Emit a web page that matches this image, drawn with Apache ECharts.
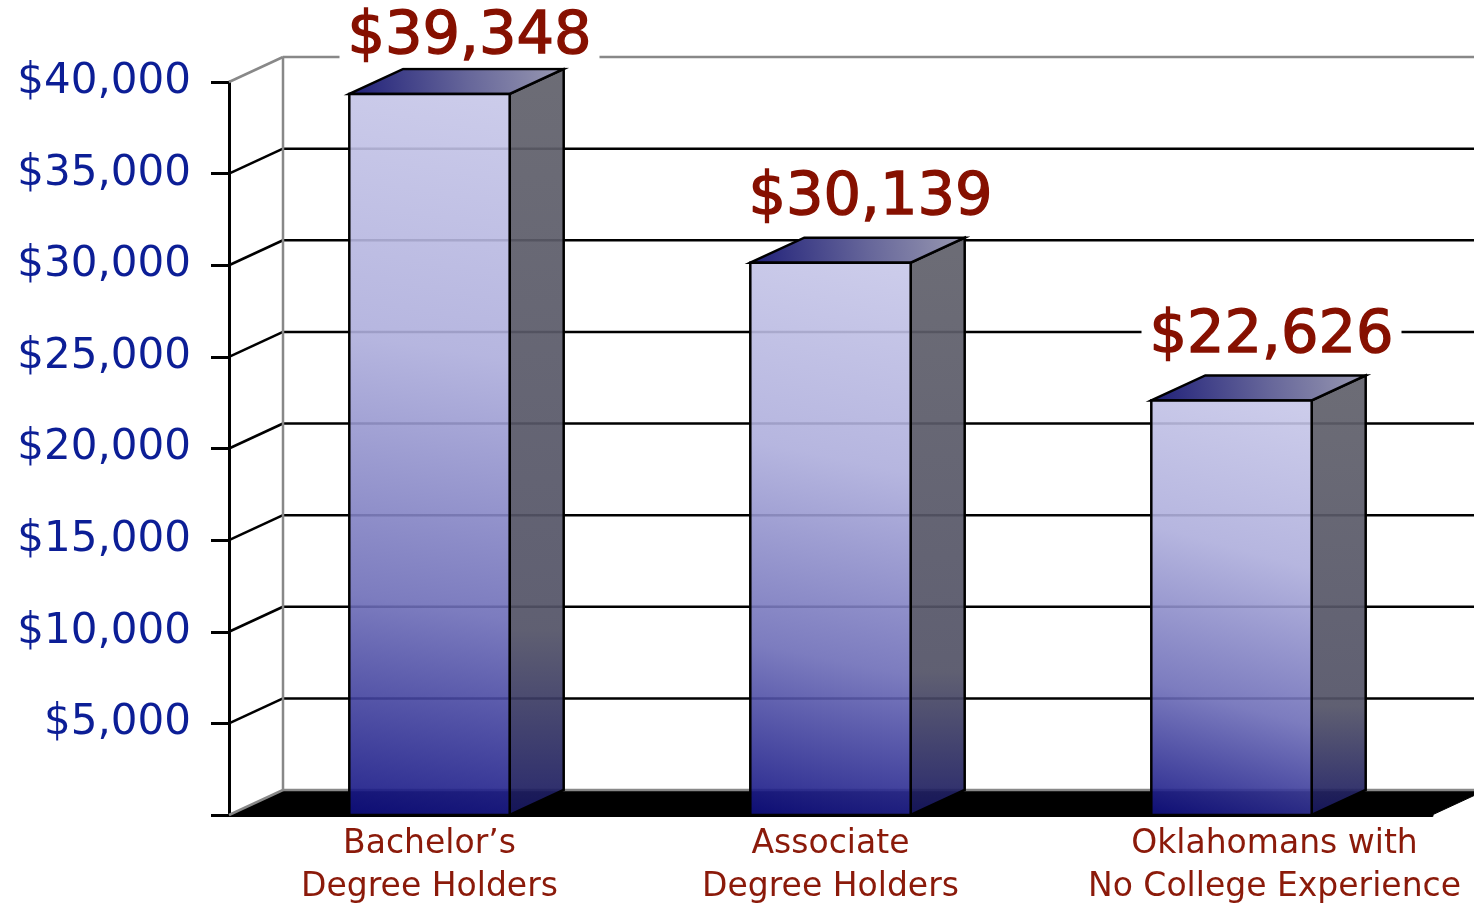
<!DOCTYPE html>
<html>
<head>
<meta charset="utf-8">
<script src="https://cdn.jsdelivr.net/npm/echarts@6/dist/echarts.min.js"></script>
<style>
html, body { margin: 0; padding: 0; background: #fff; }
#chart { width: 1474px; height: 907px; }
</style>
</head>
<body>
<div id="chart"></div>
<script>
var categories = ['Bachelor\u2019s\nDegree Holders', 'Associate\nDegree Holders', 'Oklahomans with\nNo College Experience'];
var earnings = [39348, 30139, 22626];
var yTicks = [0, 5000, 10000, 15000, 20000, 25000, 30000, 35000, 40000];

var DX = 54, DY = -25; // depth of the fake 3d box
var FONT = 'DejaVu Sans';
var LABEL_RED = '#861000';

function money(v) {
	return '$' + v.toLocaleString('en-US');
}

var chart = echarts.init(document.getElementById('chart'));

// back wall, diagonals and floor
function renderWall(params, api) {
	var cs = params.coordSys;
	var v = api.value(1);
	var y = api.coord([0, v])[1];
	var base = api.coord([0, 0])[1];
	var x0 = cs.x, xr = cs.x + cs.width;
	var kids = [];
	if (v === 0) {
		kids.push({
			type: 'polygon',
			shape: { points: [[x0, y], [x0 + DX, y + DY], [xr + DX, y + DY], [xr, y]] },
			style: { fill: '#000', stroke: '#000', lineWidth: 1 }
		});
		kids.push({ type: 'line', shape: { x1: x0, y1: y, x2: x0 + DX, y2: y + DY }, style: { stroke: '#888', lineWidth: 2.5 } });
		kids.push({ type: 'line', shape: { x1: x0 + DX, y1: y + DY, x2: xr + DX, y2: y + DY }, style: { stroke: '#888', lineWidth: 2.5 } });
		return { type: 'group', children: kids };
	}
	var col = v === yTicks[yTicks.length - 1] ? '#888' : '#000';
	kids.push({ type: 'line', shape: { x1: x0, y1: y, x2: x0 + DX, y2: y + DY }, style: { stroke: col, lineWidth: 2.5 } });
	kids.push({ type: 'line', shape: { x1: x0 + DX, y1: y + DY, x2: xr + DX, y2: y + DY }, style: { stroke: col, lineWidth: 2.5 } });
	if (col === '#888') {
		kids.push({ type: 'line', shape: { x1: x0 + DX, y1: y + DY, x2: x0 + DX, y2: base + DY }, style: { stroke: '#888', lineWidth: 2.5 } });
	}
	return { type: 'group', children: kids };
}

function renderBar(params, api) {
	var cs = params.coordSys;
	var idx = api.value(0);
	var v = api.value(1);
	var top = api.coord([idx, v]);
	var base = api.coord([idx, 0]);
	var w = api.size([1, 0])[0] * 0.4;
	var xl = top[0] - w / 2, xr = top[0] + w / 2, yt = top[1], yb = base[1];
	// keep the value label inside the top of the plot
	var ly = Math.max(yt + DY - 39, cs.y - 44);
	return {
		type: 'group',
		children: [
			{
				type: 'polygon',
				shape: { points: [[xr, yt], [xr + DX, yt + DY], [xr + DX, yb + DY], [xr, yb]] },
				style: {
					fill: new echarts.graphic.LinearGradient(0, 0, 0, 1, [
						{ offset: 0, color: 'rgba(96,96,106,0.92)' },
						{ offset: 0.75, color: 'rgba(82,82,102,0.92)' },
						{ offset: 1, color: 'rgba(22,22,96,0.92)' }
					]),
					stroke: '#000', lineWidth: 2.5, lineJoin: 'miter'
				}
			},
			{
				type: 'polygon',
				shape: { points: [[xl, yt], [xl + DX, yt + DY], [xr + DX, yt + DY], [xr, yt]] },
				style: {
					fill: new echarts.graphic.LinearGradient(0, 1, 1, 0, [
						{ offset: 0, color: '#1e1e78' },
						{ offset: 0.55, color: '#66669a' },
						{ offset: 1, color: '#9a9ab2' }
					]),
					stroke: '#000', lineWidth: 2.5, lineJoin: 'miter'
				}
			},
			{
				type: 'rect',
				shape: { x: xl, y: yt, width: w, height: yb - yt },
				style: {
					fill: new echarts.graphic.LinearGradient(0, 1, 0.7, 0, [
						{ offset: 0, color: 'rgba(14,14,128,0.9)' },
						{ offset: 0.3, color: 'rgba(110,110,184,0.9)' },
						{ offset: 0.65, color: 'rgba(174,174,220,0.9)' },
						{ offset: 1, color: 'rgba(198,198,232,0.9)' }
					]),
					stroke: '#000', lineWidth: 2.5
				}
			},
			{
				type: 'text',
				z2: 10,
				style: {
					text: money(v),
					x: top[0] + 40,
					y: ly,
					align: 'center',
					verticalAlign: 'middle',
					fill: LABEL_RED,
					stroke: LABEL_RED,
					lineWidth: 1.4,
					font: '59px ' + FONT,
					backgroundColor: '#fff',
					padding: [0, 8]
				}
			}
		]
	};
}

var option = {
	animation: false,
	grid: { left: 229, top: 82, width: 1203, height: 733, outerBoundsMode: 'none' },
	xAxis: {
		type: 'category',
		data: categories.map(function (c, i) {
			// the last label sits nudged to the right in the original
			return i === categories.length - 1 ? { value: c, textStyle: { padding: [0, 0, 0, 86] } } : c;
		}),
		axisLine: { lineStyle: { color: '#000', width: 3 } },
		axisTick: { length: 13, lineStyle: { color: '#000', width: 3 } },
		axisLabel: { interval: 0, fontFamily: FONT, fontSize: 33, lineHeight: 43, color: '#8b1a0a', margin: 8 },
		splitLine: { show: false }
	},
	yAxis: {
		type: 'value',
		min: 0,
		max: 40000,
		interval: 5000,
		axisLine: { show: true, lineStyle: { color: '#000', width: 3 } },
		axisTick: { show: true, length: 18, lineStyle: { color: '#000', width: 3 } },
		axisLabel: {
			fontFamily: FONT, fontSize: 42, color: '#0c1e96', margin: 38,
			formatter: function (v) { return v === 0 ? '' : money(v); }
		},
		splitLine: { show: false }
	},
	series: [
		{
			type: 'custom',
			z: 1,
			clip: false,
			renderItem: renderWall,
			data: yTicks.map(function (v) { return [0, v]; })
		},
		{
			type: 'custom',
			z: 3,
			clip: false,
			renderItem: renderBar,
			data: earnings.map(function (v, i) { return [i, v]; })
		}
	]
};
chart.setOption(option);
window.onresize = function () {
	chart.resize();
};
</script>
</body>
</html>
